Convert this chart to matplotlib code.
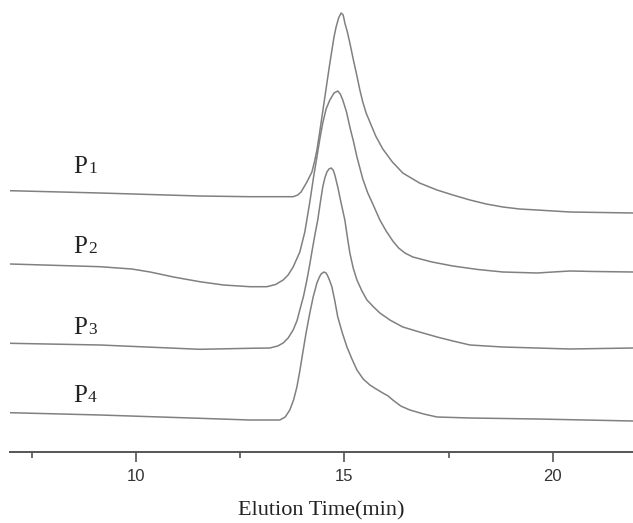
import matplotlib
matplotlib.use("Agg")
import matplotlib.pyplot as plt
from matplotlib.ticker import MultipleLocator

# elution time (min) and stacked detector signal (arbitrary units, offset per trace)
t_p1 = [6.98, 9.14, 11.53, 12.73, 13.77, 13.88, 13.96, 14.03, 14.10, 14.16, 14.22, 14.28,
        14.34, 14.40, 14.46, 14.52, 14.58, 14.64, 14.70, 14.75, 14.80, 14.86, 14.92, 14.97,
        15.01, 15.07, 15.13, 15.21, 15.30, 15.37, 15.44, 15.52, 15.61, 15.75, 15.92, 16.15,
        16.40, 16.80, 17.22, 17.60, 18.01, 18.40, 18.80, 19.20, 19.62, 20.41, 21.92]
s_p1 = [261.3, 259.0, 256.0, 255.3, 255.3, 257.0, 260.0, 265.0, 270.0, 275.0, 280.0, 290.0,
        302.0, 318.0, 335.0, 352.0, 369.0, 386.0, 402.0, 415.0, 425.0, 434.0, 439.0, 437.0,
        429.0, 420.0, 409.0, 393.0, 376.0, 362.0, 350.0, 339.0, 330.0, 316.0, 303.0, 290.0,
        279.0, 269.0, 262.0, 257.0, 252.0, 248.0, 245.0, 243.0, 242.0, 240.0, 239.0]

t_p2 = [6.98, 9.14, 9.90, 10.34, 10.90, 11.53, 12.10, 12.73, 13.14, 13.35, 13.53, 13.65,
        13.77, 13.93, 14.05, 14.17, 14.26, 14.34, 14.41, 14.48, 14.56, 14.65, 14.75, 14.84,
        14.90, 14.96, 15.05, 15.13, 15.22, 15.30, 15.44, 15.56, 15.68, 15.85, 16.00, 16.16,
        16.30, 16.45, 16.64, 17.10, 17.60, 18.20, 18.80, 19.62, 20.00, 20.41, 21.00, 21.92]
s_p2 = [188.0, 185.3, 183.0, 180.0, 175.0, 170.3, 167.0, 165.3, 165.3, 167.5, 172.0, 177.0,
        185.0, 200.0, 220.0, 250.0, 275.0, 295.0, 313.0, 329.0, 343.0, 352.0, 359.0, 361.0,
        358.0, 352.0, 340.0, 325.0, 310.0, 295.0, 273.0, 259.0, 248.0, 232.0, 221.0, 211.0,
        204.0, 199.0, 195.0, 190.0, 186.0, 182.5, 180.0, 179.0, 180.0, 181.0, 180.5, 180.0]

t_p3 = [6.98, 9.14, 11.53, 12.73, 13.21, 13.40, 13.53, 13.65, 13.77, 13.86, 13.93, 14.02,
        14.10, 14.17, 14.24, 14.30, 14.36, 14.42, 14.48, 14.53, 14.58, 14.63, 14.68, 14.73,
        14.77, 14.84, 14.92, 15.01, 15.07, 15.13, 15.21, 15.30, 15.42, 15.54, 15.70, 15.85,
        16.09, 16.40, 16.80, 17.22, 17.60, 18.01, 18.40, 18.80, 19.60, 20.41, 21.92]
s_p3 = [108.7, 107.0, 102.7, 103.7, 104.0, 106.0, 109.0, 114.0, 122.0, 131.0, 142.0, 156.0,
        172.0, 188.0, 205.0, 219.0, 232.0, 249.0, 265.0, 274.0, 280.0, 283.0, 284.0, 282.0,
        277.0, 265.0, 249.0, 232.0, 215.0, 199.0, 184.0, 172.0, 161.0, 152.0, 145.0, 139.0,
        132.0, 125.0, 120.0, 115.0, 111.0, 107.0, 106.0, 105.0, 104.0, 103.0, 104.0]

t_p4 = [6.98, 9.14, 11.53, 12.73, 13.45, 13.58, 13.69, 13.78, 13.86, 13.93, 14.00, 14.08,
        14.17, 14.25, 14.34, 14.40, 14.44, 14.51, 14.56, 14.60, 14.65, 14.70, 14.77, 14.84,
        14.95, 15.06, 15.18, 15.30, 15.45, 15.61, 15.76, 15.92, 16.05, 16.16, 16.35, 16.57,
        16.90, 17.22, 18.01, 19.62, 21.92]
s_p4 = [39.3, 37.0, 33.7, 32.0, 32.0, 35.0, 42.0, 52.0, 65.0, 81.0, 99.0, 119.0,
        139.0, 155.0, 169.0, 175.0, 178.0, 180.0, 179.0, 176.0, 171.0, 165.0, 151.0, 135.0,
        119.0, 105.0, 93.0, 82.0, 73.0, 67.0, 63.0, 59.0, 56.0, 52.0, 46.0, 42.0,
        38.0, 35.0, 34.0, 33.0, 31.0]

names = ["1", "2", "3", "4"]
label_y = [278.7, 198.7, 118.0, 50.3]
label_x = 8.5

fig = plt.figure(figsize=(6.33, 5.23), dpi=100)
ax = fig.add_axes([10 / 633, 1 - 452 / 523, 623 / 633, 452 / 523])

line_col = "#808080"
for t, s in [(t_p1, s_p1), (t_p2, s_p2), (t_p3, s_p3), (t_p4, s_p4)]:
    ax.plot(t, s, color=line_col, lw=1.1, solid_joinstyle="round", antialiased=True)

serif = ["Liberation Serif", "DejaVu Serif"]
for n, yl in zip(names, label_y):
    ax.text(label_x, yl, "P", family=serif, fontsize=18, va="baseline", ha="left",
            color="#222222")
    ax.annotate(n, (label_x, yl), xytext=(10.5, 0), textcoords="offset points",
                family=serif, fontsize=12.5, va="baseline", ha="left", color="#222222")

ax.set_xlim(6.98, 21.92)
ax.set_ylim(0, 452)

for side in ["top", "left", "right"]:
    ax.spines[side].set_visible(False)
ax.spines["bottom"].set_color("#555555")
ax.spines["bottom"].set_linewidth(1.4)
ax.set_yticks([])

ax.xaxis.set_major_locator(MultipleLocator(5))
ax.xaxis.set_minor_locator(MultipleLocator(2.5))
ax.tick_params(axis="x", which="major", length=7, width=1.2, color="#555555", pad=5,
               labelsize=12, labelcolor="#333333")
ax.tick_params(axis="x", which="minor", length=4, width=1.2, color="#555555")
for lab in ax.get_xticklabels():
    lab.set_family(["Liberation Sans", "DejaVu Sans"])

ax.set_xlabel("Elution Time(min)", family=serif, fontsize=16, color="#222222", labelpad=13)

fig.savefig("out.png", dpi=100)
